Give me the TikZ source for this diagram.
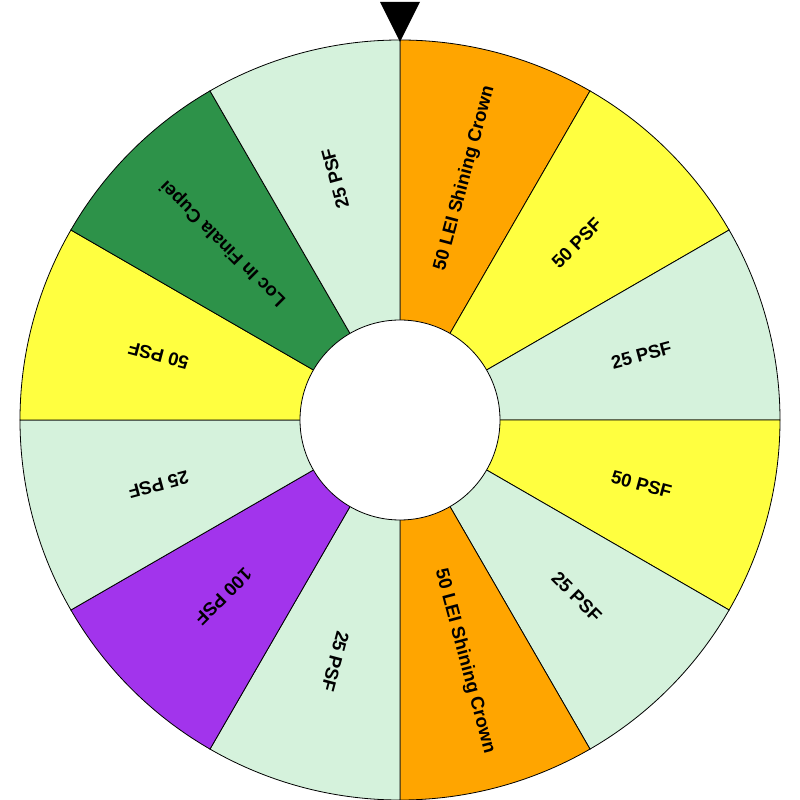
\documentclass[tikz,border=0pt]{standalone}
\usepackage{fontspec}
\setmainfont{Liberation Sans}
\definecolor{org}{HTML}{FFA500}
\definecolor{yel}{HTML}{FFFF40}
\definecolor{lgr}{HTML}{D5F2DC}
\definecolor{dgr}{HTML}{2D9249}
\definecolor{pur}{HTML}{A234EC}
\begin{document}
\begin{tikzpicture}[x=1pt,y=1pt,
  seg/.style={draw=black, line width=0.8pt},
  lbl/.style={font=\fontsize{18.5}{22}\selectfont\bfseries, text=black, inner sep=0pt}]
\useasboundingbox (-400,-380) rectangle (400,420);
\foreach \a/\c/\t [count=\i] in {75/org/50 LEI Shining Crown, 45/yel/50 PSF, 15/lgr/25 PSF, -15/yel/50 PSF, -45/lgr/25 PSF, -75/org/50 LEI Shining Crown, -105/lgr/25 PSF, -135/pur/100 PSF, -165/lgr/25 PSF, 165/yel/50 PSF, 135/dgr/Loc In Finala Cupei, 105/lgr/25 PSF} {
  \filldraw[seg, fill=\c] (0,0) -- (\a-15:380) arc[start angle=\a-15, end angle=\a+15, radius=380] -- cycle;
  \node[lbl, rotate=\a] (l\i) at (\a:250) {\t};
}
\filldraw[seg, fill=white] (0,0) circle (100);
\fill[black] (-20,418) -- (20,418) -- (0,378) -- cycle;
\end{tikzpicture}
\end{document}
